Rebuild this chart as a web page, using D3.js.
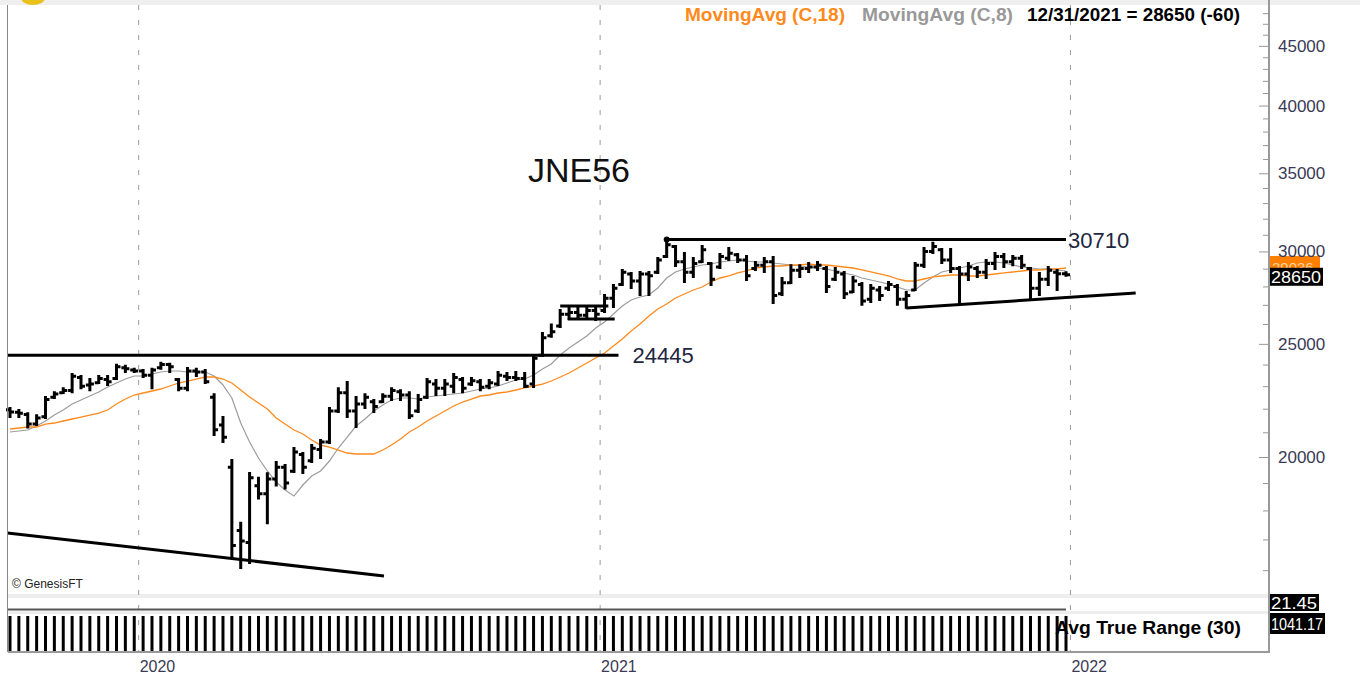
<!DOCTYPE html>
<html>
<head>
<meta charset="utf-8">
<script src="https://cdnjs.cloudflare.com/ajax/libs/d3/7.8.5/d3.min.js"></script>
<style>
  body { margin: 0; background: #fff; }
  svg { display: block; font-family: 'Liberation Sans', Arial, sans-serif; }
</style>
</head>
<body>
<div id="chart"></div>
<script>
// Weekly bars, first week ending 2019-09-20, last 2021-12-31
var FIRST_WEEK = '2019-09-20';

var opens = [21950, 21850, 21750, 21350, 21650, 22500, 22700, 22800, 23400, 23050,
  23150, 23300, 23350, 23850, 23750, 23700, 23500, 23850, 24000, 23300,
  22900, 23700, 23650, 22500, 21300, 19600, 17300, 16900, 18900, 18600,
  19150, 19600, 19450, 20100, 19850, 20300, 20600, 21900, 22700, 21900,
  22200, 22300, 22300, 22550, 22750, 22600, 21900, 22500, 23100, 22900,
  23000, 23300, 23100, 23200, 23000, 23100, 23450, 23400, 23350, 23100,
  24450, 25400, 25900, 26500, 26600, 26450, 26700, 26700, 27350, 28100,
  28700, 28300, 28700, 28800, 29700, 30300, 29400, 28800, 29400, 29300,
  29100, 29600, 29800, 29500, 29000, 29200, 29400, 27600, 28200, 28900,
  29000, 29100, 29000, 28400, 28700, 27700, 28100, 27300, 27800, 27900,
  28000, 27300, 27800, 29200, 30000, 30100, 29500, 29000, 28700, 29000,
  28800, 29300, 29700, 29400, 29600, 29000, 27900, 28400, 28800, 28710];

var highs = [22030, 21940, 21800, 21720, 22510, 22730, 22910, 23560, 23470, 23330,
  23470, 23470, 23990, 23940, 23800, 23740, 23800, 24090, 24040, 23330,
  23840, 23800, 23740, 22640, 21640, 19880, 17570, 19380, 19200, 19370,
  19800, 19690, 20360, 20160, 20480, 20680, 22030, 22910, 23190, 22510,
  22640, 22380, 22640, 22910, 22820, 22730, 22600, 23330, 23280, 23280,
  23560, 23370, 23370, 23280, 23280, 23650, 23600, 23650, 23600, 24410,
  25540, 25970, 26730, 26890, 26890, 26840, 26840, 27530, 28080, 28920,
  28750, 28810, 28810, 29610, 30710, 30330, 29910, 29610, 30330, 29320,
  29850, 30200, 29850, 29730, 29380, 29610, 29670, 28470, 29200, 29200,
  29320, 29380, 29090, 29030, 28810, 28520, 28190, 28080, 27970, 28250,
  28080, 27690, 29320, 30200, 30520, 30140, 30140, 29090, 29320, 29090,
  29500, 29910, 29850, 29730, 29730, 29030, 28750, 29090, 28920, 28800];

var lows = [21640, 21640, 21200, 21300, 21600, 22470, 22690, 22730, 22910, 22820,
  23140, 23050, 23330, 23650, 23650, 23420, 22910, 23800, 23650, 22820,
  22820, 23470, 23140, 20890, 20600, 16390, 16070, 16230, 18430, 17550,
  18910, 18800, 19420, 19380, 19800, 19960, 20560, 21860, 21640, 21220,
  22030, 21860, 22290, 22380, 22380, 21600, 21860, 22470, 22600, 22600,
  22730, 22730, 23050, 22820, 22910, 23050, 23280, 23280, 22960, 22960,
  24410, 25360, 25850, 26260, 26260, 26360, 26200, 26620, 26890, 28080,
  27910, 27530, 27530, 28750, 29670, 29150, 28250, 28520, 29380, 28080,
  29030, 29500, 29380, 28360, 28920, 28810, 27100, 27530, 28190, 28520,
  28810, 28920, 27690, 28360, 27370, 27690, 27000, 27150, 27260, 27800,
  27000, 26840, 27800, 29090, 29910, 29320, 28810, 27100, 28360, 28520,
  28470, 28980, 29090, 29200, 29030, 27260, 27530, 28080, 27800, 28600];

var closes = [21860, 21800, 21350, 21600, 22400, 22650, 22800, 23450, 23000, 23100,
  23350, 23200, 23900, 23800, 23700, 23500, 23750, 24000, 23900, 22900,
  23700, 23650, 23200, 21100, 20800, 16800, 16950, 19200, 18600, 19150,
  19600, 19000, 20200, 19600, 20350, 20600, 21900, 22700, 21900, 22200,
  22500, 22100, 22550, 22800, 22600, 21700, 22400, 23200, 22900, 23100,
  23400, 22900, 23250, 22950, 23150, 23500, 23400, 23350, 23000, 24300,
  25300, 25600, 26500, 26600, 26450, 26700, 26500, 27350, 27900, 28800,
  28300, 28700, 28600, 29500, 30400, 29400, 28800, 29300, 30100, 28400,
  29700, 29900, 29500, 28600, 29200, 29400, 27500, 28200, 28900, 29000,
  29100, 29200, 28000, 28800, 27600, 28300, 27200, 27900, 27500, 28100,
  27300, 27500, 29200, 30000, 30300, 29500, 29000, 28700, 29100, 28800,
  29300, 29700, 29400, 29600, 29200, 27900, 28400, 28900, 28710, 28650];

// Moving averages
var ma8 = [21011, 21053, 21094, 21261, 21472, 21727, 21943, 22204, 22380, 22557,
  22736, 22962, 23143, 23326, 23465, 23465, 23557, 23650, 23697, 23697,
  23650, 23650, 23650, 23465, 23052, 22469, 21387, 20601, 19961, 19456,
  19038, 18740, 18519, 18926, 19265, 19456, 19843, 20358, 20805, 21261,
  21557, 21900, 22160, 22380, 22469, 22469, 22424, 22513, 22557, 22602,
  22647, 22691, 22781, 22871, 22917, 23007, 23143, 23280, 23326, 23511,
  23791, 24027, 24457, 24797, 25093, 25391, 25795, 26102, 26517, 26939,
  27260, 27422, 27530, 27913, 28469, 28808, 28979, 29093, 29208, 29266,
  29382, 29440, 29498, 29440, 29382, 29382, 29324, 29266, 29208, 29151,
  29093, 29036, 28979, 28865, 28752, 28638, 28469, 28357, 28246, 28134,
  27968, 27803, 27803, 28190, 28526, 28808, 28922, 29036, 29151, 29324,
  29382, 29382, 29324, 29208, 29093, 29036, 28979, 28979, 28922, 28865];

var ma18 = [21136, 21178, 21219, 21219, 21345, 21387, 21472, 21557, 21641, 21727,
  21813, 21943, 22204, 22424, 22602, 22691, 22781, 22871, 23007, 23143,
  23234, 23326, 23418, 23418, 23326, 23143, 22826, 22513, 22248, 21986,
  21599, 21345, 21094, 20928, 20682, 20479, 20398, 20278, 20159, 20119,
  20119, 20119, 20278, 20479, 20723, 21011, 21219, 21472, 21684, 21900,
  22116, 22291, 22424, 22557, 22602, 22691, 22736, 22826, 22917, 23007,
  23097, 23234, 23418, 23604, 23838, 24074, 24313, 24554, 24896, 25242,
  25642, 25999, 26413, 26780, 27045, 27368, 27584, 27803, 27968, 28246,
  28469, 28582, 28752, 28865, 29036, 29093, 29151, 29151, 29208, 29208,
  29266, 29208, 29208, 29151, 29093, 29036, 28922, 28808, 28695, 28582,
  28413, 28302, 28302, 28413, 28526, 28582, 28638, 28638, 28582, 28582,
  28638, 28695, 28752, 28808, 28865, 28922, 28922, 28979, 28979, 29036];

var priceTicks = [20000, 25000, 30000, 35000, 40000, 45000];
var yearTicks = ['2020-01-01', '2021-01-01', '2022-01-01'];

// Horizontal levels drawn on the chart
var levels = [
  { value: 30710, from: '2021-02-19', to: '2021-12-31', gap: 2 },
  { value: 24445, from: '2019-09-18', to: '2021-01-12', gap: 14 }
];

// Trend lines and the small consolidation box, as [date, price]
var trendLines = [
  [['2019-09-18', 17219], ['2020-07-11', 15817]],
  [['2021-08-27', 26832], ['2022-02-24', 27640]],
  [['2020-11-27', 26939], ['2021-01-04', 26939]],
  [['2020-12-03', 26257], ['2021-01-09', 26257]]
];

var lowerPanelValue = 21.45;
var lastAtrLabel = '1041.17';

var parseDate = d3.timeParse('%Y-%m-%d');

var render = function() {
  var width = 1360;
  var height = 678;

  var margins = { left: 8, right: 1269, top: 5, priceBottom: 593 };

  var start = parseDate(FIRST_WEEK);
  var weeks = opens.map((d, i) => d3.timeWeek.offset(start, i));

  var bars = weeks.map((date, i) => ({
    date,
    open: opens[i],
    high: highs[i],
    low: lows[i],
    close: closes[i]
  }));

  // ATR(30) from the bars
  var trueRange = bars.map(function(d, i) {
    if (i == 0) return d.high - d.low;
    var prev = bars[i - 1].close;
    return Math.max(d.high, prev) - Math.min(d.low, prev);
  });
  var atr = trueRange.map((d, i) => d3.mean(trueRange.slice(Math.max(0, i - 29), i + 1)));

  var xScale = d3
    .scaleTime()
    .domain([weeks[0], weeks[weeks.length - 1]])
    .range([10, 1066]);

  var step = xScale(weeks[1]) - xScale(weeks[0]);

  var yScale = d3
    .scaleLog()
    .domain([15295, 48776])
    .range([margins.priceBottom, margins.top]);

  var lowerScale = d3
    .scaleLinear()
    .domain([21, 25])
    .range([611, 597]);

  // every bar fills the panel, so the top of the scale is the lowest value
  var atrScale = d3
    .scaleLinear()
    .domain([0, d3.min(atr)])
    .range([651, 616])
    .clamp(true);

  var svg = d3
    .select('#chart')
    .append('svg')
    .attr('width', width)
    .attr('height', height);

  // Panel backgrounds and separators
  svg.append('rect')
    .attr('x', 0).attr('y', 0)
    .attr('width', width).attr('height', margins.top)
    .attr('fill', '#efefef');

  svg.append('ellipse')
    .attr('cx', 33).attr('cy', -2)
    .attr('rx', 12).attr('ry', 7)
    .attr('fill', '#e8c21a');

  svg.append('rect')
    .attr('x', margins.left).attr('y', 594)
    .attr('width', margins.right - margins.left).attr('height', 4)
    .attr('fill', '#eeeeee');

  svg.append('rect')
    .attr('x', margins.left).attr('y', 611)
    .attr('width', margins.right - margins.left).attr('height', 3)
    .attr('fill', '#eeeeee');

  // Year grid lines sit half a bar before the first week of each year
  var years = yearTicks.map(parseDate);
  var yearX = d => xScale(d3.timeFriday.ceil(d)) - step / 2;

  svg.append('g')
    .attr('class', 'x grid')
    .selectAll('line')
    .data(years)
    .enter()
    .append('line')
    .attr('x1', yearX)
    .attr('x2', yearX)
    .attr('y1', margins.top)
    .attr('y2', 652)
    .attr('stroke', '#9a9a9a')
    .attr('stroke-width', 1)
    .attr('stroke-dasharray', '5,10');

  svg.append('g')
    .attr('class', 'x labels')
    .selectAll('text')
    .data(years)
    .enter()
    .append('text')
    .attr('x', d => yearX(d) + 1)
    .attr('y', 672)
    .attr('font-size', 16)
    .attr('fill', '#3a3a55')
    .text(d => d.getFullYear());

  // Moving averages
  var line = d3.line()
    .x((d, i) => xScale(weeks[i]))
    .y(d => yScale(d));

  svg.append('path')
    .attr('d', line(ma8))
    .attr('fill', 'none')
    .attr('stroke', '#9c9c9c')
    .attr('stroke-width', 1.2);

  svg.append('path')
    .attr('d', line(ma18))
    .attr('fill', 'none')
    .attr('stroke', '#ff8a1c')
    .attr('stroke-width', 1.3);

  // Levels and trend lines
  var levelGroup = svg.append('g').attr('class', 'levels');

  levelGroup.selectAll('line')
    .data(levels)
    .enter()
    .append('line')
    .attr('x1', d => xScale(parseDate(d.from)))
    .attr('x2', d => xScale(parseDate(d.to)))
    .attr('y1', d => yScale(d.value))
    .attr('y2', d => yScale(d.value))
    .attr('stroke', '#000')
    .attr('stroke-width', 3);

  levelGroup.selectAll('text')
    .data(levels)
    .enter()
    .append('text')
    .attr('x', d => xScale(parseDate(d.to)) + d.gap)
    .attr('y', d => yScale(d.value) + 8)
    .attr('font-size', 22)
    .attr('fill', '#1e2640')
    .text(d => d.value);

  levelGroup.append('circle')
    .attr('cx', xScale(parseDate(levels[0].from)))
    .attr('cy', yScale(levels[0].value))
    .attr('r', 3)
    .attr('fill', '#000');

  svg.append('g')
    .attr('class', 'trends')
    .selectAll('line')
    .data(trendLines)
    .enter()
    .append('line')
    .attr('x1', d => xScale(parseDate(d[0][0])))
    .attr('y1', d => yScale(d[0][1]))
    .attr('x2', d => xScale(parseDate(d[1][0])))
    .attr('y2', d => yScale(d[1][1]))
    .attr('stroke', '#000')
    .attr('stroke-width', 3);

  // OHLC bars
  var ohlc = svg.append('g')
    .attr('class', 'ohlc')
    .attr('stroke', '#000')
    .attr('stroke-width', 3)
    .attr('fill', 'none');

  ohlc.selectAll('path')
    .data(bars)
    .enter()
    .append('path')
    .attr('d', function(d) {
      var x = xScale(d.date);
      return 'M' + x + ',' + (yScale(d.high) - 1) + 'V' + (yScale(d.low) + 1) +
        'M' + (x - 4) + ',' + yScale(d.open) + 'H' + x +
        'M' + x + ',' + yScale(d.close) + 'H' + (x + 4);
    });

  // Title and credits
  svg.append('text')
    .attr('x', 579)
    .attr('y', 182)
    .attr('text-anchor', 'middle')
    .attr('font-size', 34)
    .attr('fill', '#111')
    .text('JNE56');

  svg.append('text')
    .attr('x', 12)
    .attr('y', 588)
    .attr('font-size', 12)
    .attr('fill', '#222')
    .text('\u00a9 GenesisFT');

  // Lower panel line
  svg.append('line')
    .attr('x1', margins.left)
    .attr('x2', xScale(weeks[weeks.length - 1]))
    .attr('y1', lowerScale(lowerPanelValue))
    .attr('y2', lowerScale(lowerPanelValue))
    .attr('stroke', '#555')
    .attr('stroke-width', 2);

  // ATR bars
  svg.append('g')
    .attr('class', 'atr')
    .selectAll('line')
    .data(atr)
    .enter()
    .append('line')
    .attr('x1', (d, i) => xScale(weeks[i]))
    .attr('x2', (d, i) => xScale(weeks[i]))
    .attr('y1', atrScale(0))
    .attr('y2', d => atrScale(d))
    .attr('stroke', '#000')
    .attr('stroke-width', 3);

  svg.append('text')
    .attr('x', 1055)
    .attr('y', 634)
    .attr('font-size', 18)
    .attr('font-weight', 'bold')
    .attr('fill', '#000')
    .attr('textLength', 186)
    .attr('lengthAdjust', 'spacingAndGlyphs')
    .text('Avg True Range (30)');

  // Frame lines
  svg.append('line')
    .attr('x1', 7.5).attr('x2', 7.5)
    .attr('y1', margins.top).attr('y2', 652)
    .attr('stroke', '#888');

  svg.append('line')
    .attr('x1', margins.left).attr('x2', margins.right)
    .attr('y1', 652).attr('y2', 652)
    .attr('stroke', '#999')
    .attr('stroke-width', 2);

  // Price axis on the right
  var yAxis = d3.axisLeft(yScale)
    .tickValues(d3.range(16000, 49000, 1000))
    .tickSize(6)
    .tickFormat('');

  var axisGroup = svg.append('g')
    .attr('class', 'y axis')
    .attr('transform', `translate(${margins.right},0)`)
    .call(yAxis);

  axisGroup.select('.domain').remove();
  axisGroup.selectAll('line').attr('stroke', '#999');
  axisGroup.selectAll('.tick')
    .filter(d => d % 5000 == 0)
    .select('line')
    .attr('x2', -10);

  svg.append('line')
    .attr('x1', margins.right).attr('x2', margins.right)
    .attr('y1', 0).attr('y2', 653)
    .attr('stroke', '#999')
    .attr('stroke-width', 2);

  // Value tags: orange MA18 behind, then labels, then last close
  var lastMa = ma18[ma18.length - 1];
  var lastClose = closes[closes.length - 1];

  svg.append('rect')
    .attr('x', margins.right + 1).attr('y', yScale(lastMa) - 12)
    .attr('width', 50).attr('height', 13)
    .attr('fill', '#ff8000');

  svg.append('text')
    .attr('x', margins.right + 3)
    .attr('y', yScale(lastMa) + 5)
    .attr('font-size', 15)
    .attr('fill', '#ffd2a0')
    .text(lastMa);

  svg.append('g')
    .attr('class', 'y labels')
    .selectAll('text')
    .data(priceTicks)
    .enter()
    .append('text')
    .attr('x', 1278)
    .attr('y', d => yScale(d) + 6)
    .attr('font-size', 17)
    .attr('fill', '#3a3a55')
    .text(d => d);

  var tags = [
    { text: lastClose, y: yScale(lastClose) + 2, h: 18, w: 53 },
    { text: lowerPanelValue, y: 602.5, h: 17, w: 49 },
    { text: lastAtrLabel, y: 623.5, h: 21, w: 55 }
  ];

  var tag = svg.append('g')
    .attr('class', 'tags')
    .selectAll('g')
    .data(tags)
    .enter()
    .append('g');

  tag.append('rect')
    .attr('x', margins.right + 1)
    .attr('y', d => d.y - d.h / 2)
    .attr('height', d => d.h)
    .attr('width', d => d.w)
    .attr('fill', '#000');

  tag.append('text')
    .attr('x', margins.right + 2)
    .attr('y', d => d.y + 6)
    .attr('font-size', 16)
    .attr('fill', '#fff')
    .attr('textLength', d => d.w - 3)
    .attr('lengthAdjust', 'spacingAndGlyphs')
    .text(d => d.text);

  // Legend header
  var header = [
    { text: 'MovingAvg (C,18)', x: 685, w: 160, color: '#ff8a1c' },
    { text: 'MovingAvg (C,8)', x: 862, w: 151, color: '#999' },
    { text: '12/31/2021 = 28650 (-60)', x: 1027, w: 213, color: '#000' }
  ];

  svg.append('g')
    .attr('class', 'header')
    .selectAll('text')
    .data(header)
    .enter()
    .append('text')
    .attr('x', d => d.x)
    .attr('y', 21)
    .attr('font-size', 18)
    .attr('font-weight', 'bold')
    .attr('fill', d => d.color)
    .attr('textLength', d => d.w)
    .attr('lengthAdjust', 'spacingAndGlyphs')
    .text(d => d.text);
};

window.onload = render;
</script>
</body>
</html>
